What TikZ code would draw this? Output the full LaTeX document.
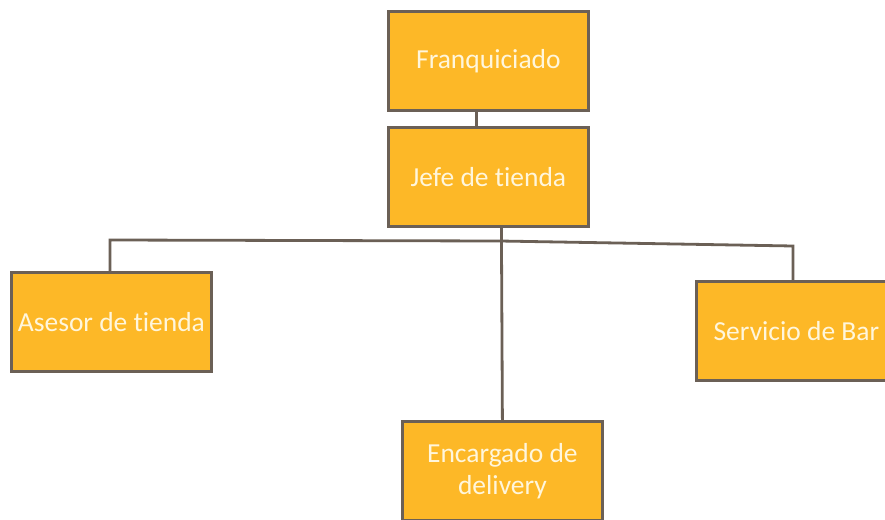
\documentclass[tikz,border=0pt]{standalone}
\usepackage{fontspec}
\setmainfont[Ligatures=NoCommon]{Carlito}
\definecolor{boxfill}{HTML}{FDB827}
\definecolor{boxline}{HTML}{6B6056}
\definecolor{boxtext}{HTML}{FFF6DC}
\begin{document}
\begin{tikzpicture}[x=1pt,y=-1pt,
  orgbox/.style={draw=boxline, line width=2.8pt, fill=boxfill, text=boxtext,
    minimum width=200pt, minimum height=99pt, inner sep=2pt, align=center,
    font=\fontsize{27.5}{32}\selectfont, anchor=north west},
  link/.style={draw=boxline, line width=2.8pt}]
\useasboundingbox (0,0) rectangle (885,519);
\clip (0,0) rectangle (885,519);
\fill[white] (0,0) rectangle (885,519);
\node[orgbox] (fr) at (387,10) {Franquiciado};
\node[orgbox] (jt) at (387,126) {Jefe de tienda};
\node[orgbox] (as) at (10,271) {Asesor de tienda};
\node[orgbox] (sb) at (695,280) {Servicio de Bar};
\node[orgbox] (ed) at (401,420) {Encargado de\\delivery};
\coordinate (bus) at (500,241);
\coordinate (busL) at (110,240);
\coordinate (busR) at (793,246);
\draw[link] ([xshift=-12pt]fr.south) -- ([xshift=-12pt]jt.north);
\draw[link] ([xshift=13pt]jt.south) -- (ed.north);
\draw[link] (as.north -| busL) |- (busL) -- (bus) -- (busR) -- (sb.north -| busR);
\end{tikzpicture}
\end{document}
